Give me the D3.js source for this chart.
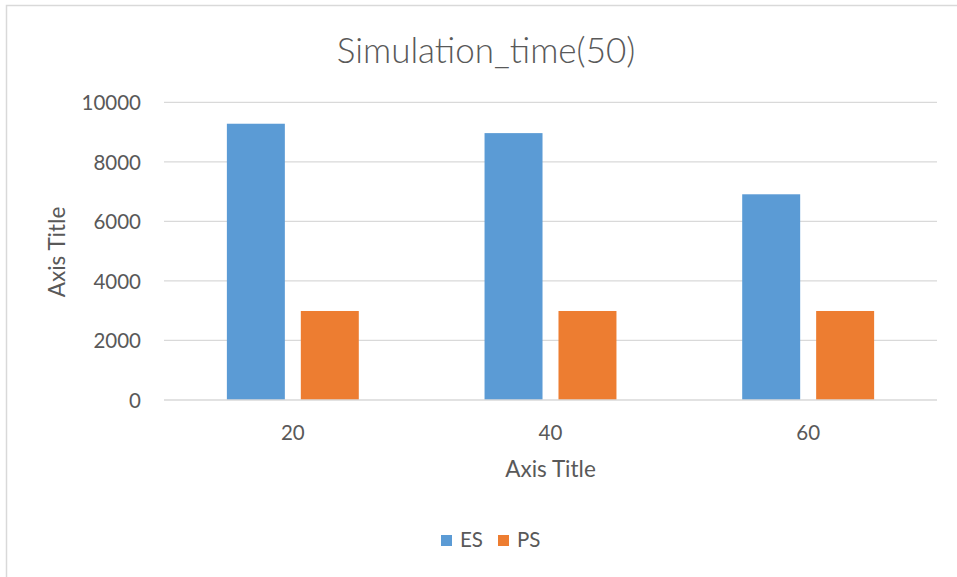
<!DOCTYPE html>
<html>
<head>
<meta charset="utf-8">
<script src="https://cdn.jsdelivr.net/npm/d3@7"></script>
<style>
  html, body { margin: 0; padding: 0; background: #ffffff; }
  svg { display: block; }
  text { font-family: Lato, "Open Sans", sans-serif; fill: #595959; }
</style>
</head>
<body>
<svg id="chart" width="957" height="577"></svg>
<script>
// Chart data
const title = "Simulation_time(50)";
const categories = ["20", "40", "60"];
const seriesNames = ["ES", "PS"];
const esValues = [9280, 8965, 6910];
const psValues = [2990, 2990, 2990];
const yTicks = [0, 2000, 4000, 6000, 8000, 10000];
const xAxisTitle = "Axis Title";
const yAxisTitle = "Axis Title";
const colors = ["#5B9BD5", "#ED7D31"];

const rows = categories.map((c, i) => ({ cat: c, values: [esValues[i], psValues[i]] }));

const svg = d3.select("#chart");
const W = 957, H = 577;

// chart frame
svg.append("rect")
  .attr("x", 6.5).attr("y", 5.5)
  .attr("width", W + 10).attr("height", H + 10)
  .attr("fill", "#ffffff")
  .attr("stroke", "#d9d9d9").attr("stroke-width", 1.5);

const plot = { left: 164, right: 937, top: 102.3, bottom: 400 };

const x = d3.scaleBand()
  .domain(categories)
  .range([plot.left, plot.right])
  .paddingInner(0.488)
  .paddingOuter(0.244);

const xs = d3.scaleBand()
  .domain(seriesNames)
  .range([0, x.bandwidth()])
  .paddingInner(0.216)
  .paddingOuter(0);

const y = d3.scaleLinear()
  .domain([0, 10000])
  .range([plot.bottom, plot.top]);

// gridlines
svg.append("g")
  .selectAll("line")
  .data(yTicks.filter(t => t > 0))
  .join("line")
  .attr("x1", plot.left).attr("x2", plot.right)
  .attr("y1", d => y(d)).attr("y2", d => y(d))
  .attr("stroke", "#d9d9d9").attr("stroke-width", 1.3);

// y axis labels
const yAxis = d3.axisLeft(y).tickValues(yTicks).tickSize(0).tickPadding(0).tickFormat(d3.format("d"));
const yg = svg.append("g").attr("transform", `translate(${plot.left - 23},0)`).call(yAxis);
yg.select(".domain").remove();
yg.selectAll("text")
  .attr("font-family", "Lato, sans-serif")
  .attr("font-size", 20.5)
  .attr("fill", "#595959")
  .attr("dy", "0.35em");

// bars
const groups = svg.append("g")
  .selectAll("g")
  .data(rows)
  .join("g")
  .attr("transform", d => `translate(${x(d.cat)},0)`);

groups.selectAll("rect")
  .data(d => d.values.map((v, i) => ({ key: seriesNames[i], v, i })))
  .join("rect")
  .attr("x", d => xs(d.key))
  .attr("width", xs.bandwidth())
  .attr("y", d => y(d.v))
  .attr("height", d => y(0) - y(d.v))
  .attr("fill", d => colors[d.i]);

// x axis line and labels
const xAxis = d3.axisBottom(x).tickSize(0).tickPadding(0);
const xg = svg.append("g").attr("transform", `translate(0,${plot.bottom})`).call(xAxis);
xg.select(".domain").remove();
xg.selectAll("text")
  .attr("font-family", "Lato, sans-serif")
  .attr("font-size", 20.5)
  .attr("fill", "#595959")
  .attr("dy", "1.95em");
svg.append("line")
  .attr("x1", plot.left).attr("x2", plot.right)
  .attr("y1", plot.bottom).attr("y2", plot.bottom)
  .attr("stroke", "#d9d9d9").attr("stroke-width", 1.5);

// title
svg.append("text")
  .attr("x", 486)
  .attr("y", 63)
  .attr("text-anchor", "middle")
  .attr("font-size", 35)
  .attr("font-weight", 300)
  .text(title);

// axis titles
svg.append("text")
  .attr("x", (plot.left + plot.right) / 2)
  .attr("y", 477)
  .attr("text-anchor", "middle")
  .attr("font-size", 22.5)
  .text(xAxisTitle);

svg.append("text")
  .attr("transform", "translate(65,252) rotate(-90)")
  .attr("text-anchor", "middle")
  .attr("font-size", 22.5)
  .text(yAxisTitle);

// legend
const legend = svg.append("g").attr("transform", "translate(441,535)");
const li = legend.selectAll("g")
  .data(seriesNames)
  .join("g")
  .attr("transform", (d, i) => `translate(${i * 57},0)`);
li.append("rect").attr("width", 11).attr("height", 11).attr("fill", (d, i) => colors[i]);
li.append("text").attr("x", 19).attr("y", 12).attr("font-size", 20.5).text(d => d);
</script>
</body>
</html>
